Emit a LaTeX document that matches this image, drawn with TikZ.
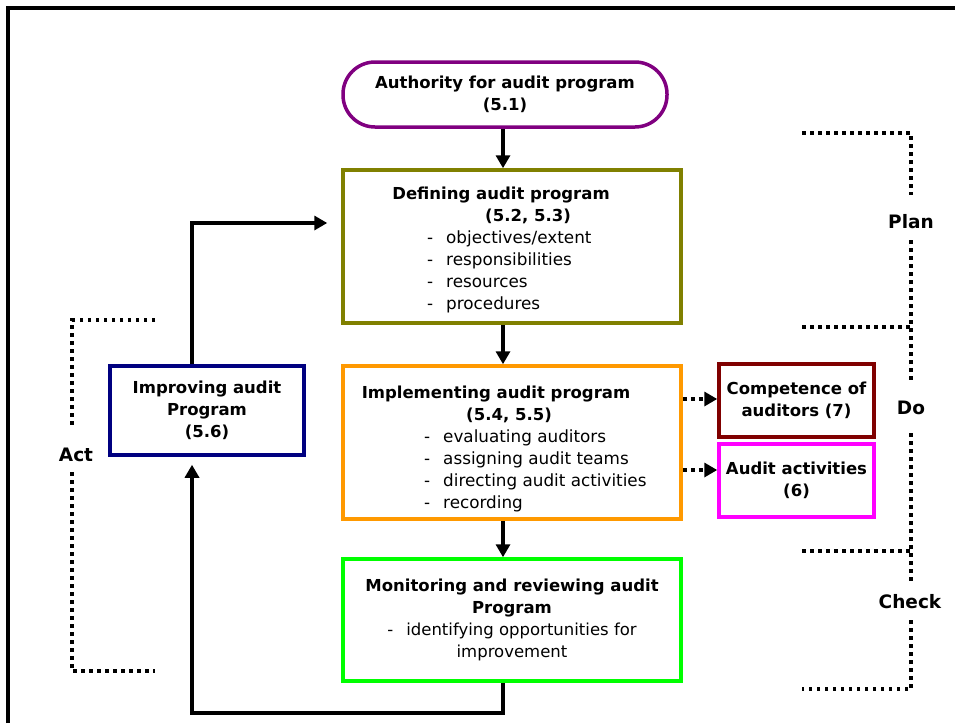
\documentclass[tikz,border=0pt]{standalone}
\usepackage{fontspec}
\setmainfont{DejaVu Sans}
\usepackage{xcolor}
\usepackage{tikz}
\usetikzlibrary{arrows.meta}

\definecolor{authcol}{HTML}{800080}
\definecolor{defcol}{HTML}{808000}
\definecolor{implcol}{HTML}{FF9900}
\definecolor{compcol}{HTML}{800000}
\definecolor{actvcol}{HTML}{FF00FF}
\definecolor{moncol}{HTML}{00FF00}
\definecolor{impcol}{HTML}{000080}

\tikzset{
	box/.style={draw=#1, line width=3.5pt, inner sep=0pt, align=center,
		font=\bfseries\fontsize{16.5}{22}\selectfont},
	ttl/.style={anchor=base, inner sep=0pt, font=\bfseries\fontsize{16.5}{22}\selectfont},
	itm/.style={anchor=base west, inner sep=0pt, font=\fontsize{16.8}{22}\selectfont},
	flow/.style={line width=3.5pt, -{Triangle[length=13pt,width=14pt]}},
	hint/.style={line width=4pt, dash pattern=on 4pt off 4pt,
		-{Triangle[length=13pt,width=14pt]}},
	phase/.style={line width=3.5pt, dash pattern=on 3.5pt off 4.5pt},
	phaselbl/.style={inner sep=0pt, font=\bfseries\fontsize{18.5}{22}\selectfont}
}
\newcommand{\dashitm}[1]{\makebox[19pt][l]{-}#1}

\begin{document}
\begin{tikzpicture}[x=1pt, y=-1pt]
	\useasboundingbox (0,0) rectangle (955,723);
	% frame
	\draw[line width=3.5pt] (8,723) |- (955,8);
	
	% boxes
	\node[box=authcol, rounded corners=32pt, minimum width=324pt, minimum height=65pt]
		(auth) at (505,94.5) {Authority for audit program\\(5.1)};
	\node[box=defcol, minimum width=338pt, minimum height=153pt] (define) at (512,246.5) {};
	\node[box=implcol, minimum width=338pt, minimum height=153pt] (impl) at (512,442.5) {};
	\node[box=compcol, minimum width=155pt, minimum height=73pt]
		(compet) at (796.5,400.5) {Competence of\\auditors (7)};
	\node[box=actvcol, minimum width=155pt, minimum height=73pt]
		(activ) at (796.5,480.5) {Audit activities\\(6)};
	\node[box=moncol, minimum width=338pt, minimum height=122pt] (monit) at (512,620)
		{Monitoring and reviewing audit\\Program\\
		{\mdseries\dashitm{identifying opportunities for}}\\{\mdseries improvement}};
	\node[box=impcol, minimum width=194pt, minimum height=89pt]
		(improve) at (207,410.5) {Improving audit\\Program\\(5.6)};
	
	% defining (5.2, 5.3)
	\node[ttl] (dttl) at (501,199) {Defining audit program};
	\node[ttl] (dref) at (528,221) {(5.2, 5.3)};
	\foreach \t [count=\i] in
	{objectives/extent, responsibilities, resources, procedures}{
		\node[itm] (d\i) at (427,221+22*\i) {\dashitm{\t}};
	}
	
	% implementing (5.4, 5.5)
	\node[ttl] (ittl) at (496,398) {Implementing audit program};
	\node[ttl] (iref) at (509,420) {(5.4, 5.5)};
	\foreach \t [count=\i] in
	{evaluating auditors, assigning audit teams, directing audit activities, recording}{
		\node[itm] (i\i) at (424,420+22*\i) {\dashitm{\t}};
	}
	
	% main flow
	\coordinate (spine) at (503,0);
	\foreach \a/\b in
	{auth/define, define/impl, impl/monit}{
		\draw[flow] (\a.south -| spine) -- (\b.north -| spine);
	}
	\foreach \b/\y in
	{compet/399, activ/470}{
		\draw[hint] (impl.east |- 0,\y) -- (\b.west |- 0,\y);
	}
	
	% improvement loop
	\coordinate (loop) at (192,0);
	\draw[flow] (monit.south -| spine) -- ++(0,30) -| ([yshift=-8pt]improve.south -| loop);
	\draw[flow, shorten >=14pt] (improve.north -| loop) |- (define.west |- 0,223);
	
	% plan / do / check
	\node[phaselbl] (plan) at (911,222) {Plan};
	\node[phaselbl] (do) at (911,408) {Do};
	\node[phaselbl] (check) at (910,602) {Check};
	\draw[phase] (802,133) -| (911,195);
	\draw[phase] (911,240) -- (911,380);
	\draw[phase] (802,327) -- (911,327);
	\draw[phase] (911,433) -- (911,585);
	\draw[phase] (802,551) -- (911,551);
	\draw[phase] (911,620) |- (802,689);
	
	% act
	\node[phaselbl] (act) at (76,455) {Act};
	\draw[phase] (155,320) -| (72,426);
	\draw[phase] (72,472) |- (155,671);
\end{tikzpicture}
\end{document}
